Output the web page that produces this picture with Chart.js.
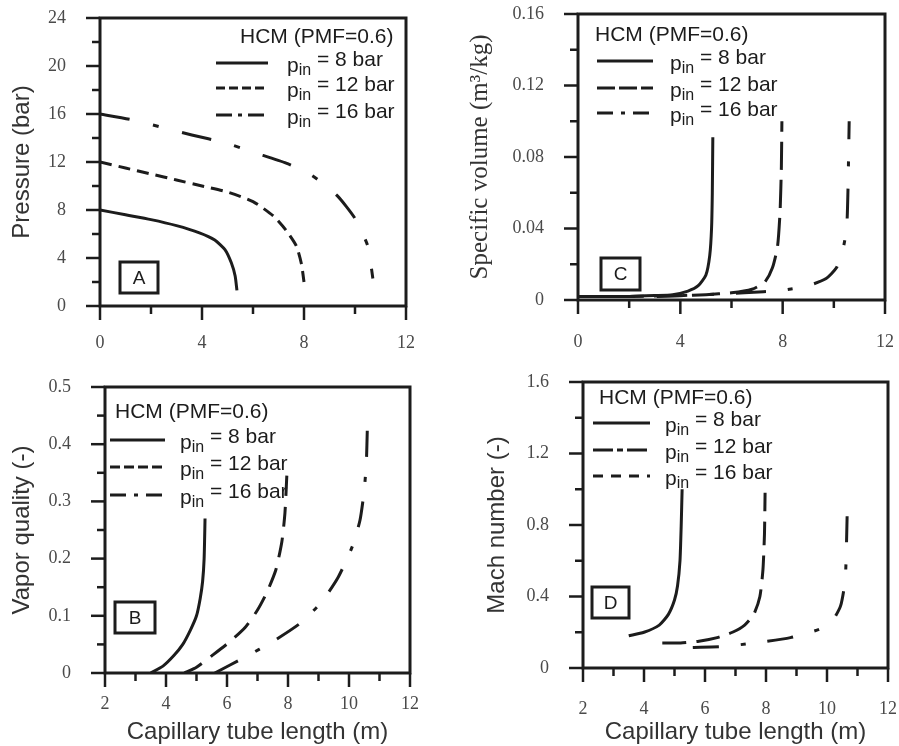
<!DOCTYPE html>
<html>
<head>
<meta charset="utf-8">
<script src="https://cdn.jsdelivr.net/npm/chart.js@4.4.1/dist/chart.umd.min.js"></script>
<style>
    body { margin: 0; background: #fff; }
    #wrap { position: relative; width: 899px; height: 746px; }
    canvas { position: absolute; }
</style>
</head>
<body>
<div id="wrap">
    <canvas id="chartA" width="440" height="370" style="left:0;top:0"></canvas>
    <canvas id="chartC" width="459" height="370" style="left:440px;top:0"></canvas>
    <canvas id="chartB" width="440" height="376" style="left:0;top:370px"></canvas>
    <canvas id="chartD" width="459" height="376" style="left:440px;top:370px"></canvas>
</div>
<script>
// inlet pressures (bar)
const pinLabels = ['8', '12', '16'];

// A: pressure (bar) vs capillary length (m)
const press8  = [[0,8],[1,7.6],[2,7.2],[3,6.7],[3.9,6.1],[4.5,5.5],[4.9,4.7],[5.15,3.6],[5.3,2.5],[5.37,1.3]];
const press12 = [[0,12],[1,11.5],[2,11.0],[3,10.5],[4,10.0],[5,9.5],[6,8.7],[6.8,7.5],[7.3,6.3],[7.7,5.0],[7.9,3.5],[8.0,2.0]];
const press16 = [[0,16],[1.3,15.5],[2.4,14.9],[3.6,14.25],[4.9,13.6],[6.1,12.75],[7.3,11.9],[8.3,10.9],[9.3,9.2],[10.0,7.3],[10.5,5.0],[10.7,2.3]];

// C: specific volume (m3/kg)
const vol8  = [[0,0.002],[1,0.002],[2,0.002],[3,0.0025],[3.7,0.003],[4.3,0.005],[4.7,0.008],[5.0,0.014],[5.15,0.025],[5.22,0.04],[5.25,0.06],[5.27,0.091]];
const vol12 = [[0,0.002],[2,0.002],[4,0.0025],[5,0.003],[6,0.004],[6.8,0.006],[7.3,0.01],[7.6,0.018],[7.8,0.03],[7.9,0.05],[7.95,0.075],[7.97,0.1]];
const vol16 = [[0,0.002],[3,0.002],[5,0.003],[6.5,0.004],[8,0.0055],[9,0.008],[9.7,0.012],[10.1,0.018],[10.35,0.028],[10.5,0.04],[10.55,0.06],[10.6,0.1]];

// B: vapor quality (-)
const qual8  = [[3.5,0],[3.9,0.012],[4.25,0.03],[4.55,0.05],[4.8,0.075],[5.0,0.1],[5.12,0.13],[5.2,0.16],[5.25,0.2],[5.28,0.27]];
const qual12 = [[4.6,0],[5.0,0.01],[5.5,0.03],[6.1,0.055],[6.6,0.08],[7.0,0.11],[7.3,0.14],[7.6,0.18],[7.8,0.23],[7.9,0.28],[7.97,0.355]];
const qual16 = [[5.6,0],[6.6,0.028],[7.5,0.055],[8.4,0.087],[9.1,0.124],[9.65,0.168],[10.1,0.22],[10.36,0.267],[10.5,0.32],[10.57,0.37],[10.6,0.425]];

// D: Mach number (-)
const mach8  = [[3.5,0.18],[4.0,0.2],[4.5,0.24],[4.8,0.3],[5.0,0.38],[5.1,0.46],[5.18,0.6],[5.22,0.8],[5.25,1.0]];
const mach12 = [[4.6,0.14],[5.2,0.14],[5.8,0.15],[6.4,0.17],[6.9,0.2],[7.3,0.24],[7.6,0.3],[7.8,0.4],[7.9,0.55],[7.95,0.75],[7.97,0.98]];
const mach16 = [[5.6,0.115],[6.6,0.12],[7.6,0.14],[8.8,0.17],[9.8,0.22],[10.2,0.27],[10.45,0.35],[10.6,0.5],[10.66,0.85]];

const ink = '#1c1c1c';
const sans = '"Liberation Sans", Arial, sans-serif';
const serif = '"Liberation Serif", "Times New Roman", serif';

// frame, tick marks, boxed letter and the hand-made legend
const deco = {
    id: 'deco',
    afterDraw(chart, args, o) {
        const ctx = chart.ctx;
        const a = chart.chartArea;
        ctx.save();
        ctx.strokeStyle = ink;
        ctx.fillStyle = ink;
        ctx.lineWidth = 3;
        ctx.strokeRect(a.left, a.top, a.right - a.left, a.bottom - a.top);

        ctx.lineWidth = 2.5;
        ['x', 'y'].forEach(id => {
            const s = chart.scales[id];
            s.ticks.forEach((t, i) => {
                const p = s.getPixelForTick(i);
                const len = t.label !== '' ? 14 : 8;
                ctx.beginPath();
                if (id === 'x') { ctx.moveTo(p, a.bottom); ctx.lineTo(p, a.bottom + len); }
                else { ctx.moveTo(a.left, p); ctx.lineTo(a.left - len, p); }
                ctx.stroke();
            });
        });

        // boxed panel letter
        ctx.lineWidth = 3;
        ctx.strokeRect(o.box[0], o.box[1], o.box[2], o.box[3]);
        ctx.font = '19px ' + sans;
        ctx.textAlign = 'center';
        ctx.textBaseline = 'middle';
        ctx.fillText(o.letter, o.box[0] + o.box[2] / 2, o.box[1] + o.box[3] / 2 + 1);

        // legend
        ctx.textAlign = 'left';
        ctx.font = '21px ' + sans;
        ctx.fillText('HCM (PMF=0.6)', o.hx, o.hy);
        pinLabels.forEach((p, k) => {
            const y = o.rows[k];
            ctx.lineWidth = 3;
            ctx.setLineDash(o.dashes[k]);
            ctx.beginPath();
            ctx.moveTo(o.lx[0], y);
            ctx.lineTo(o.lx[1], y);
            ctx.stroke();
            ctx.setLineDash([]);
            let x = o.tx;
            ctx.font = '21px ' + sans;
            ctx.fillText('p', x, y + 3);
            x += ctx.measureText('p').width;
            ctx.font = '16px ' + sans;
            ctx.fillText('in', x, y + 8);
            x += ctx.measureText('in').width;
            ctx.font = '21px ' + sans;
            ctx.fillText(' = ' + p + ' bar', x, y - 3);
        });
        ctx.restore();
    }
};

function makePanel(id, cfg) {
    const canvas = document.getElementById(id);
    const styles = [
        { borderDash: [] },
        { borderDash: cfg.dash },
        { borderDash: cfg.dashDot }
    ];
    const datasets = cfg.series.map((pts, k) => ({
        data: pts.map(p => ({ x: p[0], y: p[1] })),
        borderColor: ink,
        borderWidth: 3,
        borderDash: styles[k].borderDash,
        pointRadius: 0,
        tension: 0.2,
        fill: false
    }));

    new Chart(canvas.getContext('2d'), {
        type: 'line',
        data: { datasets: datasets },
        plugins: [deco],
        options: {
            responsive: false,
            animation: false,
            layout: {
                autoPadding: false,
                padding: { left: 0, top: cfg.area.top, right: canvas.width - cfg.area.right, bottom: 0 }
            },
            plugins: {
                legend: { display: false },
                tooltip: { enabled: false },
                deco: cfg.deco
            },
            scales: {
                x: {
                    type: 'linear',
                    min: cfg.x[0], max: cfg.x[1],
                    grid: { display: false, drawTicks: false },
                    border: { display: false },
                    ticks: {
                        stepSize: cfg.x[2],
                        autoSkip: false,
                        maxRotation: 0,
                        padding: cfg.xPad,
                        color: '#4a4a4a',
                        font: { family: serif, size: 18 },
                        callback: (v, i) => i % 2 === 0 ? String(v) : ''
                    },
                    title: cfg.xTitle ? {
                        display: true,
                        text: cfg.xTitle,
                        color: '#333',
                        font: { family: sans, size: 24, lineHeight: 1 },
                        padding: { top: 0, bottom: 2 }
                    } : { display: false },
                    afterFit: s => {
                        s.height = canvas.height - cfg.area.bottom;
                        s.paddingLeft = 0;
                        s.paddingRight = 0;
                    }
                },
                y: {
                    min: cfg.y[0], max: cfg.y[1],
                    grid: { display: false, drawTicks: false },
                    border: { display: false },
                    ticks: {
                        stepSize: cfg.y[2],
                        autoSkip: false,
                        padding: 34,
                        color: '#4a4a4a',
                        font: { family: serif, size: 18 },
                        callback: (v, i) => i % 2 === 0 ? (v === 0 ? '0' : v.toFixed(cfg.yDigits)) : ''
                    },
                    title: {
                        display: true,
                        text: cfg.yTitle,
                        color: '#333',
                        font: cfg.yTitleFont,
                        padding: { top: cfg.yTitlePad, bottom: 0 }
                    },
                    afterFit: s => {
                        s.width = cfg.area.left;
                        s.paddingTop = 0;
                        s.paddingBottom = 0;
                    }
                }
            }
        }
    });
}

makePanel('chartA', {
    series: [press8, press12, press16],
    dash: [12, 7],
    dashDot: [30, 24, 6, 24],
    area: { left: 100, top: 18, right: 406, bottom: 306 },
    x: [0, 12, 2], y: [0, 24, 2], yDigits: 0, xPad: 26,
    yTitle: 'Pressure (bar)',
    yTitleFont: { family: sans, size: 24, lineHeight: 1 },
    yTitlePad: 10,
    deco: {
        letter: 'A', box: [120, 262, 38, 31],
        hx: 240, hy: 37, rows: [63, 88, 115], lx: [216, 268], tx: 287,
        dashes: [[], [9, 4], [16, 6, 4, 6]]
    }
});

makePanel('chartC', {
    series: [vol8, vol12, vol16],
    dash: [28, 10],
    dashDot: [30, 22, 5, 22],
    area: { left: 138, top: 14, right: 445, bottom: 300 },
    x: [0, 12, 2], y: [0, 0.16, 0.02], yDigits: 2, xPad: 31,
    yTitle: 'Specific volume (m\u00b3/kg)',
    yTitleFont: { family: serif, size: 25, lineHeight: 1 },
    yTitlePad: 28,
    deco: {
        letter: 'C', box: [161, 258, 39, 32],
        hx: 155, hy: 35, rows: [61, 88, 113], lx: [157, 213], tx: 230,
        dashes: [[], [18, 4], [16, 8, 4, 8]]
    }
});

makePanel('chartB', {
    series: [qual8, qual12, qual16],
    dash: [20, 11],
    dashDot: [26, 20, 5, 20],
    area: { left: 105, top: 17, right: 410, bottom: 303 },
    x: [2, 12, 1], y: [0, 0.5, 0.05], yDigits: 1, xPad: 20,
    xTitle: 'Capillary tube length (m)',
    yTitle: 'Vapor quality (-)',
    yTitleFont: { family: sans, size: 24, lineHeight: 1 },
    yTitlePad: 10,
    deco: {
        letter: 'B', box: [115, 232, 40, 31],
        hx: 115, hy: 42, rows: [70, 97, 125], lx: [110, 165], tx: 180,
        dashes: [[], [10, 4], [16, 8, 4, 8]]
    }
});

makePanel('chartD', {
    series: [mach8, mach12, mach16],
    dash: [24, 10],
    dashDot: [26, 22, 5, 22],
    area: { left: 143, top: 12, right: 448, bottom: 298 },
    x: [2, 12, 1], y: [0, 1.6, 0.2], yDigits: 1, xPad: 30,
    xTitle: 'Capillary tube length (m)',
    yTitle: 'Mach number (-)',
    yTitleFont: { family: sans, size: 24, lineHeight: 1 },
    yTitlePad: 45,
    deco: {
        letter: 'D', box: [152, 217, 37, 31],
        hx: 159, hy: 28, rows: [53, 80, 106], lx: [153, 210], tx: 225,
        dashes: [[], [20, 4, 6, 4], [10, 8, 10, 8]]
    }
});
</script>
</body>
</html>
